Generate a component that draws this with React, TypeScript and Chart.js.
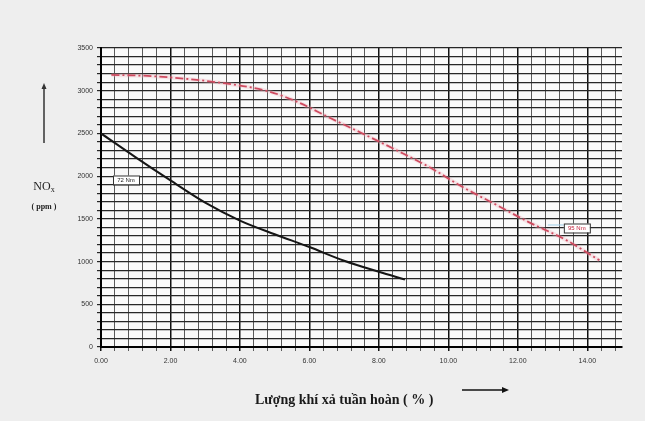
import React, { useEffect, useRef } from "react";
import { Chart, registerables } from "chart.js";

Chart.register(...registerables);

// ---- data ----
const seriesNames = ["72 Nm", "95 Nm"];
const egr72 = [0, 1, 2, 3, 4, 5, 6, 7, 8, 8.75];
const nox72 = [2500, 2220, 1950, 1690, 1480, 1320, 1170, 1010, 880, 790];
const egr95 = [0.3, 1.5, 3.5, 4.8, 5.65, 6.6, 7.5, 8.5, 9.5, 10.4, 11.4, 12.3, 13.4, 14.35];
const nox95 = [3185, 3170, 3090, 2995, 2870, 2680, 2505, 2305, 2095, 1875, 1660, 1465, 1250, 1015];
const xTickLabels = ["0.00", "2.00", "4.00", "6.00", "8.00", "10.00", "12.00", "14.00"];
const yTickLabels = ["0", "500", "1000", "1500", "2000", "2500", "3000", "3500"];
const xTitle = "Lượng khí xả tuần hoàn ( % )";
const yTitleMain = "NO";
const yTitleSub = "x";
const yTitleUnit = "( ppm )";
const labelAnchorX = [0.72, 13.7];
const labelAnchorY = [1955, 1393];

const X_MAX = 15;
const X_MINOR = 0.4;
const Y_MAX = 3500;

const decorPlugin = {
  id: "decor",
  beforeDraw(chart: any) {
    const { ctx, chartArea: a, width, height } = chart;
    ctx.save();
    ctx.fillStyle = "#eeeeee";
    ctx.fillRect(0, 0, width, height);
    ctx.fillStyle = "#f9f9f9";
    ctx.fillRect(a.left, a.top, a.right - a.left, a.bottom - a.top);
    ctx.restore();
  },
  afterDatasetsDraw(chart: any) {
    const { ctx } = chart;
    const xs = chart.scales.x;
    const ys = chart.scales.y;
    ctx.save();
    // series labels
    ctx.font = "6px 'Liberation Sans'";
    ctx.textAlign = "center";
    ctx.textBaseline = "middle";
    seriesNames.forEach((name, i) => {
      const cx = xs.getPixelForValue(labelAnchorX[i]);
      const cy = ys.getPixelForValue(labelAnchorY[i]);
      const w = 26, h = 9;
      if (i === 1) {
        ctx.strokeStyle = "#9fd0ea";
        ctx.lineWidth = 1;
        ctx.beginPath();
        ctx.moveTo(cx - w / 2 - 16, cy - 3);
        ctx.lineTo(cx - w / 2, cy - 3);
        ctx.stroke();
      }
      ctx.fillStyle = "#ffffff";
      ctx.fillRect(cx - w / 2, cy - h / 2, w, h);
      ctx.strokeStyle = "#333333";
      ctx.lineWidth = 1;
      ctx.strokeRect(cx - w / 2 + 0.5, cy - h / 2 + 0.5, w, h);
      ctx.fillStyle = i === 0 ? "#222222" : "#c0203a";
      ctx.fillText(name, cx, cy + 0.5);
    });

    // y title
    ctx.fillStyle = "#222222";
    ctx.textBaseline = "alphabetic";
    ctx.font = "12px 'Liberation Serif'";
    const mainW = ctx.measureText(yTitleMain).width;
    ctx.font = "8px 'Liberation Serif'";
    const subW = ctx.measureText(yTitleSub).width;
    const startX = 44 - (mainW + subW) / 2;
    ctx.font = "12px 'Liberation Serif'";
    ctx.textAlign = "left";
    ctx.fillText(yTitleMain, startX, 190);
    ctx.font = "8px 'Liberation Serif'";
    ctx.fillText(yTitleSub, startX + mainW, 192);
    ctx.font = "bold 8px 'Liberation Serif'";
    ctx.textAlign = "center";
    ctx.fillText(yTitleUnit, 44, 209);

    // up arrow
    ctx.strokeStyle = "#333333";
    ctx.fillStyle = "#333333";
    ctx.lineWidth = 1.5;
    ctx.beginPath();
    ctx.moveTo(44, 143);
    ctx.lineTo(44, 88);
    ctx.stroke();
    ctx.beginPath();
    ctx.moveTo(44, 83);
    ctx.lineTo(41.5, 89);
    ctx.lineTo(46.5, 89);
    ctx.closePath();
    ctx.fill();

    // x title
    ctx.font = "bold 14px 'Liberation Serif'";
    ctx.textAlign = "left";
    ctx.fillStyle = "#1a1a1a";
    ctx.fillText(xTitle, 255, 404);

    // right arrow
    ctx.strokeStyle = "#111111";
    ctx.fillStyle = "#111111";
    ctx.lineWidth = 1.5;
    ctx.beginPath();
    ctx.moveTo(462, 390);
    ctx.lineTo(503, 390);
    ctx.stroke();
    ctx.beginPath();
    ctx.moveTo(509, 390);
    ctx.lineTo(502, 387);
    ctx.lineTo(502, 393);
    ctx.closePath();
    ctx.fill();
    ctx.restore();
  },
};

export default function App() {
  const ref = useRef<HTMLCanvasElement | null>(null);

  useEffect(() => {
    document.body.style.margin = "0";
    document.body.style.background = "#eeeeee";
    const canvas = ref.current;
    if (!canvas) return;

    const pts72 = egr72.map((x, i) => ({ x, y: nox72[i] }));
    const pts95 = egr95.map((x, i) => ({ x, y: nox95[i] }));

    const chart = new Chart(canvas, {
      type: "line",
      data: {
        datasets: [
          {
            label: seriesNames[1] + " halo",
            data: pts95,
            borderColor: "rgba(240,175,185,0.3)",
            borderWidth: 4,
            pointRadius: 0,
            cubicInterpolationMode: "monotone",
          },
          {
            label: seriesNames[1],
            data: pts95,
            borderColor: "#c0203a",
            borderWidth: 1.8,
            borderDash: [8, 3, 2, 3],
            pointRadius: 0,
            cubicInterpolationMode: "monotone",
          },
          {
            label: seriesNames[0],
            data: pts72,
            borderColor: "#151515",
            borderWidth: 2,
            pointRadius: 0,
            cubicInterpolationMode: "monotone",
          },
        ],
      },
      options: {
        responsive: false,
        animation: false,
        layout: { padding: { top: 48, right: 23, left: 0, bottom: 0 } },
        plugins: { legend: { display: false }, tooltip: { enabled: false } },
        scales: {
          x: {
            type: "linear",
            min: 0,
            max: X_MAX,
            afterBuildTicks: (scale: any) => {
              const t = [];
              for (let i = 0; i * X_MINOR < X_MAX - 1e-9; i++) {
                t.push({ value: Math.round(i * X_MINOR * 10) / 10 });
              }
              scale.ticks = t;
            },
            afterFit: (scale: any) => {
              scale.height = 74;
            },
            ticks: {
              autoSkip: false,
              maxRotation: 0,
              padding: 6,
              color: "#333333",
              font: { family: "'Liberation Sans'", size: 7 },
              callback: (v: any) => {
                const n = Number(v);
                const k = Math.round(n / 2);
                return Math.abs(n - k * 2) < 1e-6 ? xTickLabels[k] ?? "" : "";
              },
            },
            grid: {
              color: (c: any) => {
                const n = c.tick ? c.tick.value : 0;
                return Math.abs(n / 2 - Math.round(n / 2)) < 1e-6 ? "#111111" : "#5a5a5a";
              },
              lineWidth: (c: any) => {
                const n = c.tick ? c.tick.value : 0;
                return Math.abs(n / 2 - Math.round(n / 2)) < 1e-6 ? 1.5 : 1;
              },
              tickLength: 4,
            },
            border: { color: "#000000", width: 2 },
          },
          y: {
            min: 0,
            max: Y_MAX,
            afterFit: (scale: any) => {
              scale.width = 101;
            },
            ticks: {
              stepSize: 100,
              autoSkip: false,
              padding: 4,
              color: "#333333",
              font: { family: "'Liberation Sans'", size: 7 },
              callback: (v: any) => {
                const n = Number(v);
                return n % 500 === 0 ? yTickLabels[n / 500] ?? "" : "";
              },
            },
            grid: {
              color: "#262626",
              lineWidth: 1.2,
              tickLength: 4,
            },
            border: { color: "#000000", width: 2 },
          },
        },
      },
      plugins: [decorPlugin],
    } as any);

    return () => chart.destroy();
  }, []);

  return (
    <div style={{ width: 645, height: 421, background: "#eeeeee" }}>
      <canvas ref={ref} width={645} height={421} style={{ display: "block" }} />
    </div>
  );
}
